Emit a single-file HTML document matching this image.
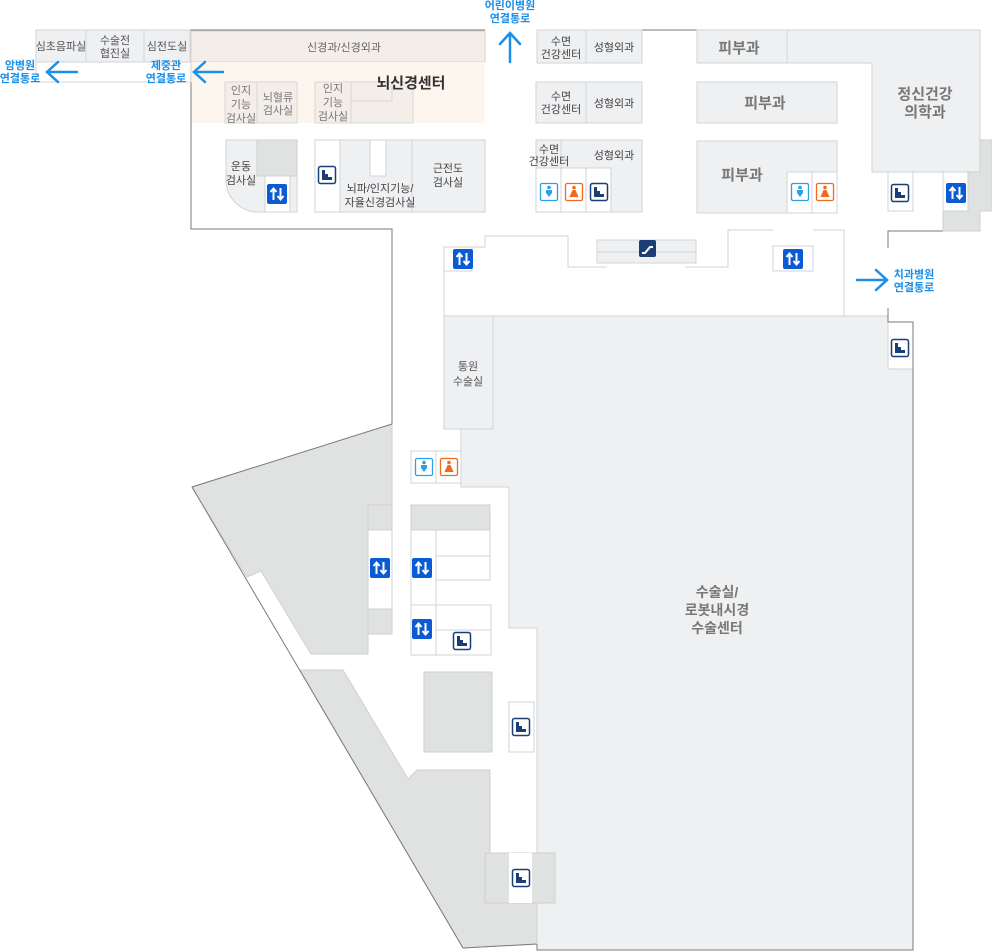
<!DOCTYPE html>
<html><head><meta charset="utf-8"><style>
html,body{margin:0;padding:0;background:#fff;}
svg{display:block;font-family:"Liberation Sans","Noto Sans CJK KR",sans-serif;}
.t{fill:#555;font-size:11px;text-anchor:middle;}
.tb{fill:#777;font-size:15px;text-anchor:middle;font-weight:bold;}
.bl{fill:#1a8fe8;font-size:11px;font-weight:bold;text-anchor:middle;}
.r{fill:#eff0f2;stroke:#d2d3d5;stroke-width:1;}
.w{fill:#fff;stroke:#d2d3d5;stroke-width:1;}
.g{fill:#e0e1e1;stroke:#cfd0d0;stroke-width:1;}
</style></head><body>
<svg width="992" height="951" viewBox="0 0 992 951" xmlns="http://www.w3.org/2000/svg">
<defs>
<g id="el"><rect x="-10" y="-10" width="20" height="20" rx="2" fill="#0b5bd3"/><path d="M-3.5,6 V-5 M-6.5,-2 L-3.5,-5.5 L-0.5,-2 M3.5,-6 V5 M0.5,2 L3.5,5.5 L6.5,2" stroke="#fff" stroke-width="2" fill="none"/></g>
<g id="st"><rect x="-8.5" y="-8.5" width="17" height="17" rx="2" fill="#fff" stroke="#1b3f74" stroke-width="1.5"/><path d="M-5,-5 h3 v4 h3 v3 h4 v3 h-10z" fill="#1b3f74"/></g>
<g id="m"><rect x="-8.5" y="-8.5" width="17" height="17" rx="1.5" fill="#fff" stroke="#2aa0ea" stroke-width="1.3"/><circle cx="0" cy="-4.5" r="1.8" fill="#2aa0ea"/><path d="M-3,-2 h6 v3 l-3,4 l-3,-4z" fill="#2aa0ea"/></g>
<g id="f"><rect x="-8.5" y="-8.5" width="17" height="17" rx="1.5" fill="#fff" stroke="#f06a1e" stroke-width="1.3"/><circle cx="0" cy="-4.5" r="1.8" fill="#f06a1e"/><path d="M-1.5,-2 h3 l3,7 h-9z" fill="#f06a1e"/></g>
</defs>

<polygon points="192,487 392,424 392,505 368,505 368,654 311,654 261,571 247,577" fill="#e0e1e1" stroke="#cfd0d0"/>
<polygon points="301,670 343,670 408,779 417,770 490,770 490,853 485,853 485,903 537,903 537,944 463,948 300,670" fill="#e0e1e1" stroke="#cfd0d0"/>
<polyline points="192,487 463,948 537,944" fill="none" stroke="#7a7a7a" stroke-width="1"/>
<line x1="192" y1="487" x2="392" y2="424" stroke="#7a7a7a"/>

<polygon points="493,316 888,316 888,322 913,322 913,950 537,950 537,628 509,628 509,487 461,487 461,429 493,429" class="r"/>
<rect x="444" y="316" width="49" height="113" class="r"/>
<text class="t" x="468" y="370">통원</text><text class="t" x="468" y="385">수술실</text>
<text class="t" x="717" y="597" style="font-size:14px;fill:#777;font-weight:bold">수술실/</text>
<text class="t" x="717" y="615" style="font-size:14px;fill:#777;font-weight:bold">로봇내시경</text>
<text class="t" x="717" y="633" style="font-size:14px;fill:#777;font-weight:bold">수술센터</text>
<rect x="888" y="322" width="25" height="47" class="w"/><use href="#st" x="900" y="348"/>
<rect x="509" y="702" width="25" height="50" class="w"/><use href="#st" x="521" y="727"/>
<rect x="485" y="853" width="70" height="50" class="g"/><rect x="509" y="853" width="23" height="50" fill="#fff"/><use href="#st" x="521" y="878"/>

<rect x="411" y="451" width="25" height="32" class="w"/><rect x="436" y="451" width="25" height="32" class="w"/>
<use href="#m" x="424" y="467"/><use href="#f" x="449" y="467"/>
<rect x="368" y="505" width="24" height="25" class="g"/><rect x="368" y="530" width="24" height="79" class="w"/><rect x="368" y="609" width="24" height="25" class="g"/>
<use href="#el" x="380" y="568"/>
<rect x="411" y="505" width="79" height="25" class="g"/>
<rect x="411" y="530" width="25" height="75" class="w"/><rect x="436" y="530" width="54" height="26" class="w"/><rect x="436" y="556" width="54" height="24" class="w"/>
<use href="#el" x="422" y="568"/>
<rect x="411" y="605" width="25" height="50" class="w"/><rect x="436" y="605" width="55" height="25" class="w"/><rect x="436" y="630" width="55" height="25" class="w"/>
<use href="#el" x="422" y="629"/><use href="#st" x="462" y="641"/>
<rect x="424" y="672" width="68" height="80" class="g"/>

<polyline points="444,316 444,247 485,247 485,236 568,236 568,267 607,267" fill="none" stroke="#d2d3d5"/>
<polyline points="685,267 728,267 728,230 773,230" fill="none" stroke="#d2d3d5"/>
<polyline points="813,230 844,230 844,316" fill="none" stroke="#d2d3d5"/>
<rect x="597" y="240" width="99" height="12" class="r"/><rect x="597" y="252" width="99" height="11" class="r"/>
<rect x="639" y="240" width="17" height="17" rx="2" fill="#1b3f74"/><path d="M642,253 l3,0 l5,-6 l3,0" stroke="#fff" stroke-width="2" fill="none"/>
<rect x="773" y="246" width="40" height="25" class="w"/><use href="#el" x="793" y="259"/>
<rect x="444" y="247" width="28" height="24" class="w"/><use href="#el" x="463" y="259"/>

<polyline points="392,424 392,229 191,229 191,30 485,30" fill="none" stroke="#7a7a7a"/>
<polyline points="537,30 980,30 980,140" fill="none" stroke="#7a7a7a"/>
<polyline points="888,248 888,231 980,231 980,211" fill="none" stroke="#7a7a7a"/>
<polyline points="888,308 888,322 913,322 913,950 537,950 537,944" fill="none" stroke="#7a7a7a"/>

<rect x="36" y="30" width="50" height="32" class="r"/><rect x="86" y="30" width="58" height="32" class="r"/><rect x="144" y="30" width="46" height="32" class="r"/>
<rect x="36" y="62" width="155" height="20" class="w"/>
<text class="t" x="61" y="50">심초음파실</text>
<text class="t" x="115" y="44">수술전</text><text class="t" x="115" y="57">협진실</text>
<text class="t" x="167" y="50">심전도실</text>
<rect x="191" y="31" width="294" height="31" fill="#f3eeea" stroke="#d8d2cd"/>
<text class="t" x="344" y="51" style="fill:#666">신경과/신경외과</text>
<rect x="191.5" y="62" width="293" height="61" fill="#fdf6ef"/>
<rect x="225" y="82" width="72" height="41" fill="#f3eeea" stroke="#ddd6d0"/><line x1="257" y1="82" x2="257" y2="123" stroke="#ddd6d0"/>
<rect x="315" y="82" width="98" height="41" fill="#f3eeea" stroke="#ddd6d0"/><line x1="351" y1="82" x2="351" y2="123" stroke="#ddd6d0"/><rect x="351" y="82" width="41" height="19" fill="#f3eeea" stroke="#ddd6d0"/>
<text class="t" x="241" y="94" style="fill:#777">인지</text><text class="t" x="241" y="108" style="fill:#777">기능</text><text class="t" x="241" y="122" style="fill:#777">검사실</text>
<text class="t" x="278" y="101" style="fill:#777">뇌혈류</text><text class="t" x="278" y="114" style="fill:#777">검사실</text>
<text class="t" x="333" y="92" style="fill:#777">인지</text><text class="t" x="333" y="106" style="fill:#777">기능</text><text class="t" x="333" y="120" style="fill:#777">검사실</text>
<text x="411" y="88" fill="#333" font-size="15" font-weight="bold" text-anchor="middle">뇌신경센터</text>

<g stroke="#1a8fe8" stroke-width="2.5" fill="none" stroke-linecap="round">
<path d="M77,72 H47 M58,62 L47,72 L58,82"/>
<path d="M223,72 H194 M205,62 L194,72 L205,82"/>
<path d="M510,62 V33 M500,44 L510,33 L520,44"/>
<path d="M857,280 H887 M876,270 L887,280 L876,290"/>
</g>
<text class="bl" x="20" y="69">암병원</text><text class="bl" x="20" y="82">연결통로</text>
<text class="bl" x="166" y="69">제중관</text><text class="bl" x="166" y="82">연결통로</text>
<text class="bl" x="510" y="9">어린이병원</text><text class="bl" x="510" y="22">연결통로</text>
<text class="bl" x="914" y="278">치과병원</text><text class="bl" x="914" y="291">연결통로</text>

<path d="M226,140 H297 V212 H257 A32,32 0 0 1 226,180 Z" class="r"/>
<rect x="257" y="140" width="40" height="36" class="g"/>
<rect x="265" y="176" width="25" height="36" class="w"/><use href="#el" x="277" y="194"/>
<text class="t" x="241" y="170" style="fill:#444">운동</text><text class="t" x="241" y="184" style="fill:#444">검사실</text>
<rect x="315" y="140" width="170" height="72" class="r"/>
<rect x="315" y="140" width="25" height="72" class="w"/><use href="#st" x="327" y="175"/>
<rect x="370" y="140" width="16" height="36" fill="#fff" stroke="#d2d3d5"/>
<line x1="412" y1="140" x2="412" y2="212" stroke="#d2d3d5"/>
<text class="t" x="380" y="192" style="fill:#444">뇌파/인지기능/</text><text class="t" x="380" y="206" style="fill:#444">자율신경검사실</text>
<text class="t" x="448" y="172" style="fill:#444">근전도</text><text class="t" x="448" y="186" style="fill:#444">검사실</text>

<rect x="537" y="30" width="105" height="33" class="r"/><line x1="586" y1="30" x2="586" y2="63" stroke="#d2d3d5"/>
<text class="t" x="561" y="45" style="fill:#444">수면</text><text class="t" x="561" y="58" style="fill:#444">건강센터</text><text class="t" x="614" y="51" style="fill:#444">성형외과</text>
<rect x="536" y="82" width="106" height="41" class="r"/><line x1="586" y1="82" x2="586" y2="123" stroke="#d2d3d5"/>
<text class="t" x="561" y="100" style="fill:#444">수면</text><text class="t" x="561" y="113" style="fill:#444">건강센터</text><text class="t" x="614" y="107" style="fill:#444">성형외과</text>
<rect x="536" y="140" width="106" height="72" class="r"/><line x1="561" y1="140" x2="561" y2="168" stroke="#d2d3d5"/>
<text class="t" x="549" y="153" style="fill:#444">수면</text><text class="t" x="549" y="165" style="fill:#444">건강센터</text><text class="t" x="614" y="159" style="fill:#444">성형외과</text>
<rect x="536" y="168" width="25" height="44" class="w"/><rect x="561" y="168" width="25" height="44" class="w"/><rect x="586" y="168" width="25" height="44" class="w"/>
<use href="#m" x="549" y="192"/><use href="#f" x="574" y="192"/><use href="#st" x="599" y="192"/>

<path d="M697,30 H980 V172 H872 V63 H697 Z" class="r"/><line x1="787" y1="30" x2="787" y2="63" stroke="#d2d3d5"/>
<text class="tb" x="739" y="53">피부과</text>
<text class="tb" x="925" y="99" style="font-size:15px">정신건강</text><text class="tb" x="925" y="117" style="font-size:15px">의학과</text>
<rect x="697" y="82" width="140" height="41" class="r"/><text class="tb" x="765" y="108">피부과</text>
<rect x="697" y="141" width="140" height="72" class="r"/><text class="tb" x="742" y="180">피부과</text>
<rect x="787" y="172" width="25" height="41" class="w"/><rect x="812" y="172" width="25" height="41" class="w"/>
<use href="#m" x="800" y="192"/><use href="#f" x="825" y="192"/>
<rect x="888" y="172" width="25" height="39" class="w"/><use href="#st" x="900" y="193"/>
<rect x="943" y="172" width="25" height="39" class="w"/><use href="#el" x="956" y="193"/>
<polygon points="980,140 992,140 992,211 980,211 980,231 943,231 943,211 968,211 968,172 980,172" class="g"/>
</svg>
</body></html>
